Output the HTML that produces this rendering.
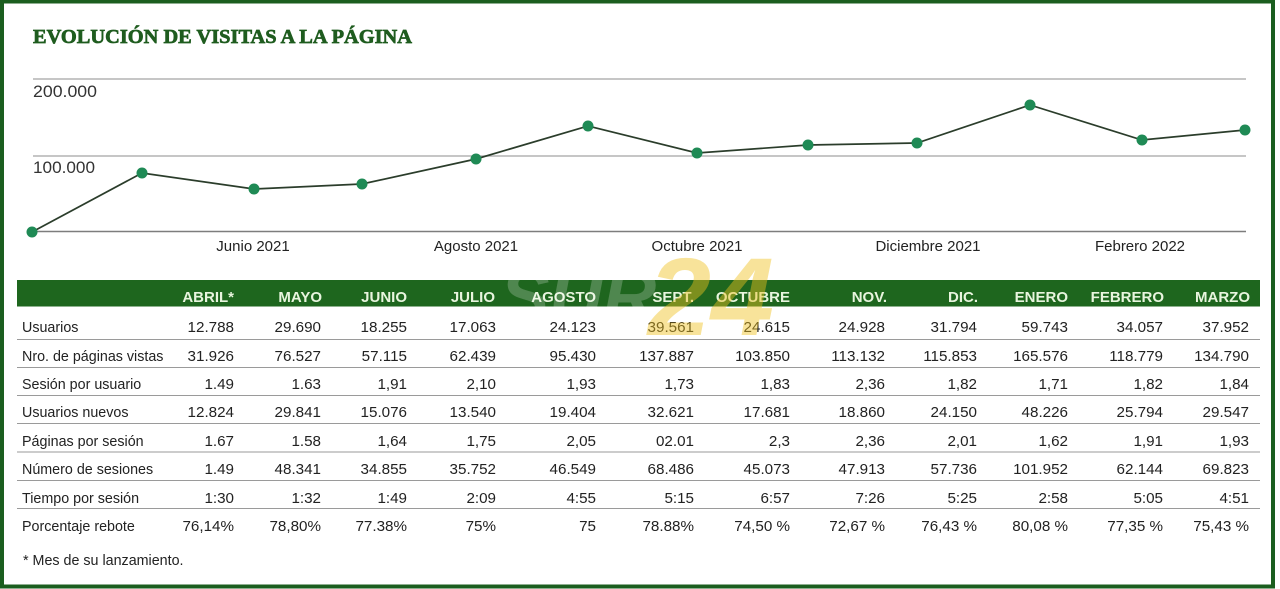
<!DOCTYPE html>
<html><head><meta charset="utf-8"><style>
html,body{margin:0;padding:0;background:#fff;}
svg{display:block;}
text{font-family:"Liberation Sans",sans-serif;}
text.serif{font-family:"Liberation Serif",serif;}
</style></head><body>
<svg width="1280" height="589" viewBox="0 0 1280 589" xmlns="http://www.w3.org/2000/svg">
<rect x="0" y="0" width="1280" height="589" fill="#fff"/>
<rect x="2" y="1.5" width="1271" height="585" fill="none" stroke="#1b5e1f" stroke-width="4"/>
<text class="serif" x="33" y="43" font-weight="bold" font-size="20.5" fill="#1f5c1f" stroke="#1f5c1f" stroke-width="0.7" textLength="379" lengthAdjust="spacingAndGlyphs">EVOLUCIÓN DE VISITAS A LA PÁGINA</text>
<!-- grid -->
<line x1="33" y1="79" x2="1246" y2="79" stroke="#b3b3b3" stroke-width="1.5"/>
<line x1="33" y1="156" x2="1246" y2="156" stroke="#b3b3b3" stroke-width="1.5"/>
<line x1="33" y1="231.5" x2="1246" y2="231.5" stroke="#7d7d7d" stroke-width="1.6"/>
<text x="33" y="97" font-size="16.5" fill="#333" textLength="64" lengthAdjust="spacingAndGlyphs">200.000</text>
<text x="33" y="173" font-size="16.5" fill="#333" textLength="62" lengthAdjust="spacingAndGlyphs">100.000</text>
<g font-size="15" fill="#222" text-anchor="middle">
<text x="253" y="251">Junio 2021</text>
<text x="476" y="251">Agosto 2021</text>
<text x="697" y="251">Octubre 2021</text>
<text x="928" y="251">Diciembre 2021</text>
<text x="1140" y="251">Febrero 2022</text>
</g>
<polyline fill="none" stroke="#2b3d2b" stroke-width="1.7" points="32,232 142,173 254,189 362,184 476,159 588,126 697,153 808,145 917,143 1030,105 1142,140 1245,130"/>
<g fill="#1f8a55">
<circle cx="32" cy="232" r="5.5"/><circle cx="142" cy="173" r="5.5"/><circle cx="254" cy="189" r="5.5"/><circle cx="362" cy="184" r="5.5"/><circle cx="476" cy="159" r="5.5"/><circle cx="588" cy="126" r="5.5"/><circle cx="697" cy="153" r="5.5"/><circle cx="808" cy="145" r="5.5"/><circle cx="917" cy="143" r="5.5"/><circle cx="1030" cy="105" r="5.5"/><circle cx="1142" cy="140" r="5.5"/><circle cx="1245" cy="130" r="5.5"/>
</g>
<!-- table -->
<rect x="17" y="280" width="1243" height="26.5" fill="#1e661e"/>
<g font-size="15" font-weight="bold" fill="#e8f5de" text-anchor="end">
<text x="234" y="302">ABRIL*</text><text x="322" y="302">MAYO</text><text x="407" y="302">JUNIO</text><text x="495" y="302">JULIO</text><text x="596" y="302">AGOSTO</text><text x="694" y="302">SEPT.</text><text x="790" y="302">OCTUBRE</text><text x="887" y="302">NOV.</text><text x="978" y="302">DIC.</text><text x="1068" y="302">ENERO</text><text x="1164" y="302">FEBRERO</text><text x="1250" y="302">MARZO</text>
</g>
<g stroke="#9a9a9a" stroke-width="1">
<line x1="17" y1="339.5" x2="1260" y2="339.5"/>
<line x1="17" y1="367.5" x2="1260" y2="367.5"/>
<line x1="17" y1="395.5" x2="1260" y2="395.5"/>
<line x1="17" y1="423.5" x2="1260" y2="423.5"/>
<line x1="17" y1="452" x2="1260" y2="452"/>
<line x1="17" y1="480.5" x2="1260" y2="480.5"/>
<line x1="17" y1="508.5" x2="1260" y2="508.5"/>
</g>
<g font-size="14.3" fill="#222">
<text x="22" y="332">Usuarios</text>
<text x="22" y="361">Nro. de páginas vistas</text>
<text x="22" y="389">Sesión por usuario</text>
<text x="22" y="417">Usuarios nuevos</text>
<text x="22" y="446">Páginas por sesión</text>
<text x="22" y="474">Número de sesiones</text>
<text x="22" y="503">Tiempo por sesión</text>
<text x="22" y="531">Porcentaje rebote</text>
</g>
<g font-size="15.2" fill="#222" text-anchor="end">
<text x="234" y="332">12.788</text><text x="321" y="332">29.690</text><text x="407" y="332">18.255</text><text x="496" y="332">17.063</text><text x="596" y="332">24.123</text><text x="694" y="332">39.561</text><text x="790" y="332">24.615</text><text x="885" y="332">24.928</text><text x="977" y="332">31.794</text><text x="1068" y="332">59.743</text><text x="1163" y="332">34.057</text><text x="1249" y="332">37.952</text>
<text x="234" y="361">31.926</text><text x="321" y="361">76.527</text><text x="407" y="361">57.115</text><text x="496" y="361">62.439</text><text x="596" y="361">95.430</text><text x="694" y="361">137.887</text><text x="790" y="361">103.850</text><text x="885" y="361">113.132</text><text x="977" y="361">115.853</text><text x="1068" y="361">165.576</text><text x="1163" y="361">118.779</text><text x="1249" y="361">134.790</text>
<text x="234" y="389">1.49</text><text x="321" y="389">1.63</text><text x="407" y="389">1,91</text><text x="496" y="389">2,10</text><text x="596" y="389">1,93</text><text x="694" y="389">1,73</text><text x="790" y="389">1,83</text><text x="885" y="389">2,36</text><text x="977" y="389">1,82</text><text x="1068" y="389">1,71</text><text x="1163" y="389">1,82</text><text x="1249" y="389">1,84</text>
<text x="234" y="417">12.824</text><text x="321" y="417">29.841</text><text x="407" y="417">15.076</text><text x="496" y="417">13.540</text><text x="596" y="417">19.404</text><text x="694" y="417">32.621</text><text x="790" y="417">17.681</text><text x="885" y="417">18.860</text><text x="977" y="417">24.150</text><text x="1068" y="417">48.226</text><text x="1163" y="417">25.794</text><text x="1249" y="417">29.547</text>
<text x="234" y="446">1.67</text><text x="321" y="446">1.58</text><text x="407" y="446">1,64</text><text x="496" y="446">1,75</text><text x="596" y="446">2,05</text><text x="694" y="446">02.01</text><text x="790" y="446">2,3</text><text x="885" y="446">2,36</text><text x="977" y="446">2,01</text><text x="1068" y="446">1,62</text><text x="1163" y="446">1,91</text><text x="1249" y="446">1,93</text>
<text x="234" y="474">1.49</text><text x="321" y="474">48.341</text><text x="407" y="474">34.855</text><text x="496" y="474">35.752</text><text x="596" y="474">46.549</text><text x="694" y="474">68.486</text><text x="790" y="474">45.073</text><text x="885" y="474">47.913</text><text x="977" y="474">57.736</text><text x="1068" y="474">101.952</text><text x="1163" y="474">62.144</text><text x="1249" y="474">69.823</text>
<text x="234" y="503">1:30</text><text x="321" y="503">1:32</text><text x="407" y="503">1:49</text><text x="496" y="503">2:09</text><text x="596" y="503">4:55</text><text x="694" y="503">5:15</text><text x="790" y="503">6:57</text><text x="885" y="503">7:26</text><text x="977" y="503">5:25</text><text x="1068" y="503">2:58</text><text x="1163" y="503">5:05</text><text x="1249" y="503">4:51</text>
<text x="234" y="531">76,14%</text><text x="321" y="531">78,80%</text><text x="407" y="531">77.38%</text><text x="496" y="531">75%</text><text x="596" y="531">75</text><text x="694" y="531">78.88%</text><text x="790" y="531">74,50 %</text><text x="885" y="531">72,67 %</text><text x="977" y="531">76,43 %</text><text x="1068" y="531">80,08 %</text><text x="1163" y="531">77,35 %</text><text x="1249" y="531">75,43 %</text>
</g>
<text x="23" y="565" font-size="14.3" fill="#222">* Mes de su lanzamiento.</text>
<!-- watermark -->
<defs><clipPath id="band"><rect x="17" y="280" width="1243" height="26.5"/></clipPath></defs>
<g clip-path="url(#band)">
<text x="500" y="322" font-size="74" font-weight="bold" font-style="italic" fill="#ffffff" fill-opacity="0.22">SUR</text>
</g>
<text x="648" y="335" font-size="110" font-weight="bold" font-style="italic" fill="#f0c020" fill-opacity="0.45" textLength="126" lengthAdjust="spacingAndGlyphs">24</text>
</svg>
</body></html>
